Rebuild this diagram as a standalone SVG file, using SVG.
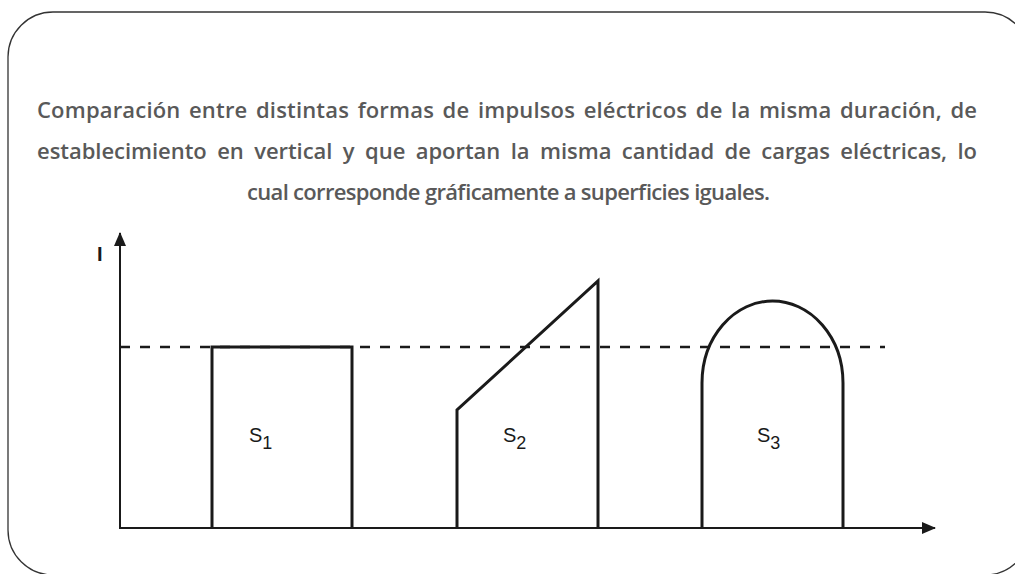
<svg xmlns="http://www.w3.org/2000/svg" width="1015" height="574" viewBox="0 0 1015 574">
<style>
.title{font-family:"Open Sans","Noto Sans",sans-serif;font-weight:600;font-size:22px;fill:#595959}
.shape{fill:none;stroke:#1a1a1a;stroke-width:3}
.axis{stroke:#1a1a1a;stroke-width:2;fill:none}
.lbl{font-family:"Liberation Sans",Arial,sans-serif;font-size:20px;fill:#1a1a1a}
.sub{font-size:18px}
</style>
<defs>
<marker id="arr" markerWidth="14" markerHeight="12" refX="13" refY="6" orient="auto" markerUnits="userSpaceOnUse">
<path d="M0,0 L14,6 L0,12 Z" fill="#1a1a1a"/>
</marker>
</defs>
<rect x="8" y="12" width="1022" height="563" rx="45" ry="45" fill="#fff" stroke="#333" stroke-width="1.3"/>
<g id="title">
<text class="title" x="37" y="118" textLength="940" word-spacing="2.7">Comparación entre distintas formas de impulsos eléctricos de la misma duración, de</text>
<text class="title" x="37" y="159" textLength="940" word-spacing="4.8">establecimiento en vertical y que aportan la misma cantidad de cargas eléctricas, lo</text>
<text class="title" x="247" y="200" textLength="523">cual corresponde gráficamente a superficies iguales.</text>
</g>
<g id="connectors">
<line class="axis" x1="120" y1="528" x2="120" y2="233" marker-end="url(#arr)"/>
<line class="axis" x1="119" y1="528" x2="935" y2="528" marker-end="url(#arr)"/>
<line x1="120" y1="347" x2="885" y2="347" stroke="#1a1a1a" stroke-width="2.5" stroke-dasharray="10,10"/>
</g>
<g id="axis-label">
<text class="lbl" x="97" y="261" font-size="19" font-weight="700">I</text>
</g>
<g id="s1">
<path class="shape" d="M212,528 V347 H352 V528"/>
<text class="lbl" x="249" y="442">S<tspan class="sub" dy="7">1</tspan></text>
</g>
<g id="s2">
<path class="shape" d="M457,528 V410 L598,281 V528"/>
<text class="lbl" x="503" y="442">S<tspan class="sub" dy="7">2</tspan></text>
</g>
<g id="s3">
<path class="shape" d="M702,528 V383 A70.5 82 0 0 1 843,383 V528"/>
<text class="lbl" x="757" y="442">S<tspan class="sub" dy="7">3</tspan></text>
</g>
</svg>
